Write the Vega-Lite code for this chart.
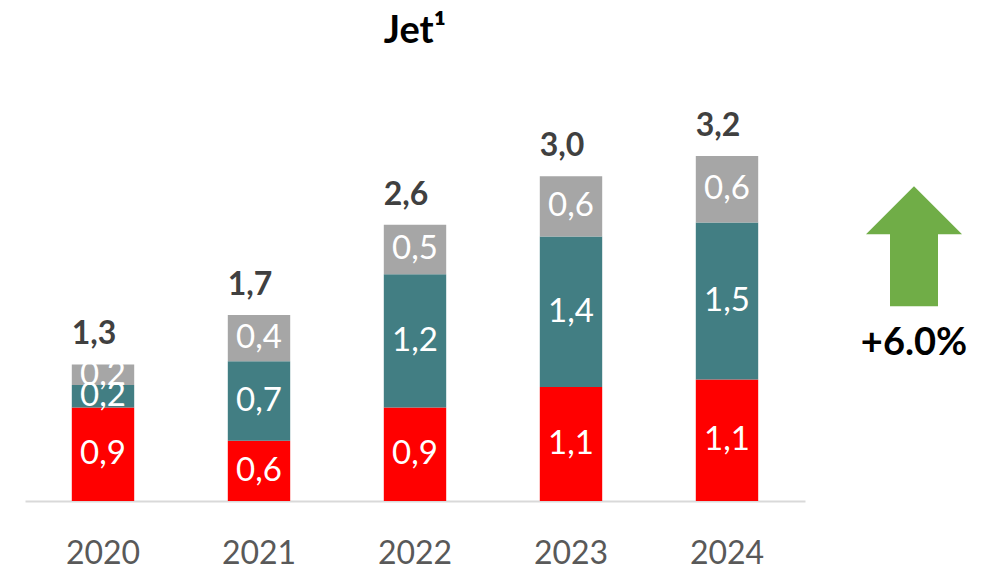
{
  "$schema": "https://vega.github.io/schema/vega-lite/v6.json",
  "background": "white",
  "padding": {"left": 25, "top": 13, "right": 0, "bottom": 0},
  "config": {
    "font": "Lato",
    "view": {"stroke": null},
    "concat": {"spacing": 29},
    "locale": {"number": {"decimal": ",", "thousands": ".", "grouping": [3], "currency": ["", " €"]}}
  },
  "datasets": {
    "bars": [
      {"year": "2020", "segment": "A", "value": 0.87, "label": "0,9"},
      {"year": "2020", "segment": "B", "value": 0.21, "label": "0,2"},
      {"year": "2020", "segment": "C", "value": 0.19, "label": "0,2"},
      {"year": "2021", "segment": "A", "value": 0.56, "label": "0,6"},
      {"year": "2021", "segment": "B", "value": 0.74, "label": "0,7"},
      {"year": "2021", "segment": "C", "value": 0.43, "label": "0,4"},
      {"year": "2022", "segment": "A", "value": 0.87, "label": "0,9"},
      {"year": "2022", "segment": "B", "value": 1.24, "label": "1,2"},
      {"year": "2022", "segment": "C", "value": 0.46, "label": "0,5"},
      {"year": "2023", "segment": "A", "value": 1.06, "label": "1,1"},
      {"year": "2023", "segment": "B", "value": 1.40, "label": "1,4"},
      {"year": "2023", "segment": "C", "value": 0.56, "label": "0,6"},
      {"year": "2024", "segment": "A", "value": 1.13, "label": "1,1"},
      {"year": "2024", "segment": "B", "value": 1.46, "label": "1,5"},
      {"year": "2024", "segment": "C", "value": 0.62, "label": "0,6"}
    ],
    "totals": [
      {"year": "2020", "total": 1.27, "label": "1,3"},
      {"year": "2021", "total": 1.73, "label": "1,7"},
      {"year": "2022", "total": 2.57, "label": "2,6"},
      {"year": "2023", "total": 3.02, "label": "3,0"},
      {"year": "2024", "total": 3.21, "label": "3,2"}
    ],
    "growth": [
      {"kind": "arrow", "x": 0, "y": 2.37, "label": ""},
      {"kind": "text", "x": 0, "y": 1.46, "label": "+6.0%"}
    ]
  },
  "hconcat": [
    {
      "width": 780,
      "height": 430,
      "title": {"text": "Jet¹", "fontSize": 38, "fontWeight": "bold", "color": "#000000", "offset": 20, "font": "Lato"},
      "layer": [
        {
          "data": {"name": "bars"},
          "mark": {"type": "bar"},
          "encoding": {
            "x": {
              "field": "year", "type": "nominal", "sort": null,
              "scale": {"paddingInner": 0.6, "paddingOuter": 0.3},
              "axis": {
                "title": null, "ticks": false, "domainColor": "#D9D9D9", "domainWidth": 2,
                "labelFontSize": 32, "labelColor": "#595959", "labelAngle": 0,
                "labelBaseline": "alphabetic", "labelPadding": 62, "labelFont": "Lato"
              }
            },
            "y": {
              "field": "value", "type": "quantitative", "stack": "zero",
              "scale": {"domain": [0, 4]}, "axis": null
            },
            "color": {
              "field": "segment", "type": "nominal",
              "scale": {"domain": ["A", "B", "C"], "range": ["#FF0000", "#427E83", "#A6A6A6"]},
              "legend": null
            },
            "order": {"field": "segment"}
          }
        },
        {
          "data": {"name": "bars"},
          "transform": [
            {"stack": "value", "groupby": ["year"], "sort": [{"field": "segment"}], "as": ["v0", "v1"]},
            {"calculate": "(datum.v0 + datum.v1) / 2", "as": "mid"}
          ],
          "mark": {"type": "text", "color": "white", "fontSize": 33, "baseline": "middle", "align": "center", "font": "Lato"},
          "encoding": {
            "x": {"field": "year", "type": "nominal", "sort": null},
            "y": {"field": "mid", "type": "quantitative"},
            "text": {"field": "label"}
          }
        },
        {
          "data": {"name": "totals"},
          "mark": {"type": "text", "color": "#404040", "fontSize": 32, "fontWeight": "bold", "baseline": "alphabetic", "align": "center", "dy": -20, "dx": -9, "font": "Lato"},
          "encoding": {
            "x": {"field": "year", "type": "nominal", "sort": null},
            "y": {"field": "total", "type": "quantitative"},
            "text": {"field": "label"}
          }
        }
      ]
    },
    {
      "width": 160,
      "height": 430,
      "data": {"name": "growth"},
      "layer": [
        {
          "transform": [{"filter": "datum.kind === 'arrow'"}],
          "mark": {
            "type": "point", "filled": true, "color": "#70AD47", "opacity": 1, "size": 14400,
            "shape": "M0,-1 L0.8,-0.2 L0.4,-0.2 L0.4,1 L-0.4,1 L-0.4,-0.2 L-0.8,-0.2 Z"
          },
          "encoding": {
            "x": {"field": "x", "type": "quantitative", "scale": {"domain": [-1, 1]}, "axis": null},
            "y": {"field": "y", "type": "quantitative", "scale": {"domain": [0, 4]}, "axis": null}
          }
        },
        {
          "transform": [{"filter": "datum.kind === 'text'"}],
          "mark": {"type": "text", "color": "#000000", "fontSize": 38, "fontWeight": "bold", "baseline": "middle", "align": "center", "font": "Lato"},
          "encoding": {
            "x": {"field": "x", "type": "quantitative", "scale": {"domain": [-1, 1]}, "axis": null},
            "y": {"field": "y", "type": "quantitative", "scale": {"domain": [0, 4]}, "axis": null},
            "text": {"field": "label"}
          }
        }
      ]
    }
  ]
}
